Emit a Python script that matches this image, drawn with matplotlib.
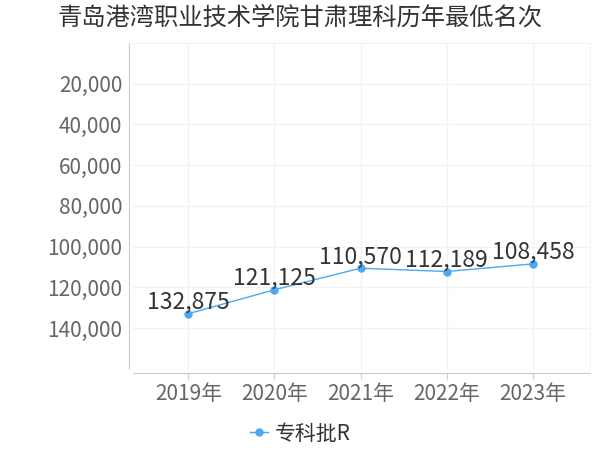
import matplotlib.pyplot as plt

plt.rcParams['font.family'] = ['Noto Sans CJK SC', 'DejaVu Sans']

# data
years = ["2019年", "2020年", "2021年", "2022年", "2023年"]
ranks = [132875, 121125, 110570, 112189, 108458]
series_name = "专科批R"
title = "青岛港湾职业技术学院甘肃理科历年最低名次"

line_colour = "#4aa8f5"
grey = "#666666"

fig = plt.figure(figsize=(6, 4.5), dpi=100)
ax = fig.add_axes([0.222, 0.18, 0.761, 0.725])

x = list(range(len(years)))
ax.plot(x, ranks, color=line_colour, linewidth=1, marker="o", markersize=5,
        label=series_name)
for xi, v in zip(x, ranks):
    ax.annotate(f"{v:,}", (xi, v), xytext=(0, 0), textcoords="offset points",
                ha="center", va="bottom", fontsize=16.5, color="#333333")

ax.set_ylim(160000, 0)
ax.set_yticks([20000, 40000, 60000, 80000, 100000, 120000, 140000])
ax.yaxis.set_major_formatter(plt.FuncFormatter(lambda v, p: f"{int(v):,}"))
ax.set_xlim(-0.64, 4.66)
ax.set_xticks(x)
ax.set_xticklabels(years)

ax.grid(True, color="#f2f2f2", linewidth=1)
ax.set_axisbelow(True)
ax.tick_params(axis="y", length=0, labelsize=15, labelcolor=grey, pad=5)
ax.tick_params(axis="x", length=4, color="#cccccc", labelsize=15, labelcolor=grey, pad=3)

for s in ["top", "right"]:
    ax.spines[s].set_color("#f2f2f2")
ax.spines["left"].set_color("#cccccc")
ax.spines["bottom"].set_color("#cccccc")
ax.spines["left"].set_position(("outward", 3))
ax.spines["bottom"].set_position(("outward", 3))

fig.suptitle(title, x=0.5, y=0.99, fontsize=17.5, color="#333333")

fig.legend(loc="lower center", bbox_to_anchor=(0.5, -0.03), frameon=False,
           fontsize=15, labelcolor="#333333", handlelength=0.9, handletextpad=0.3)

fig.savefig("out.png", dpi=100)
